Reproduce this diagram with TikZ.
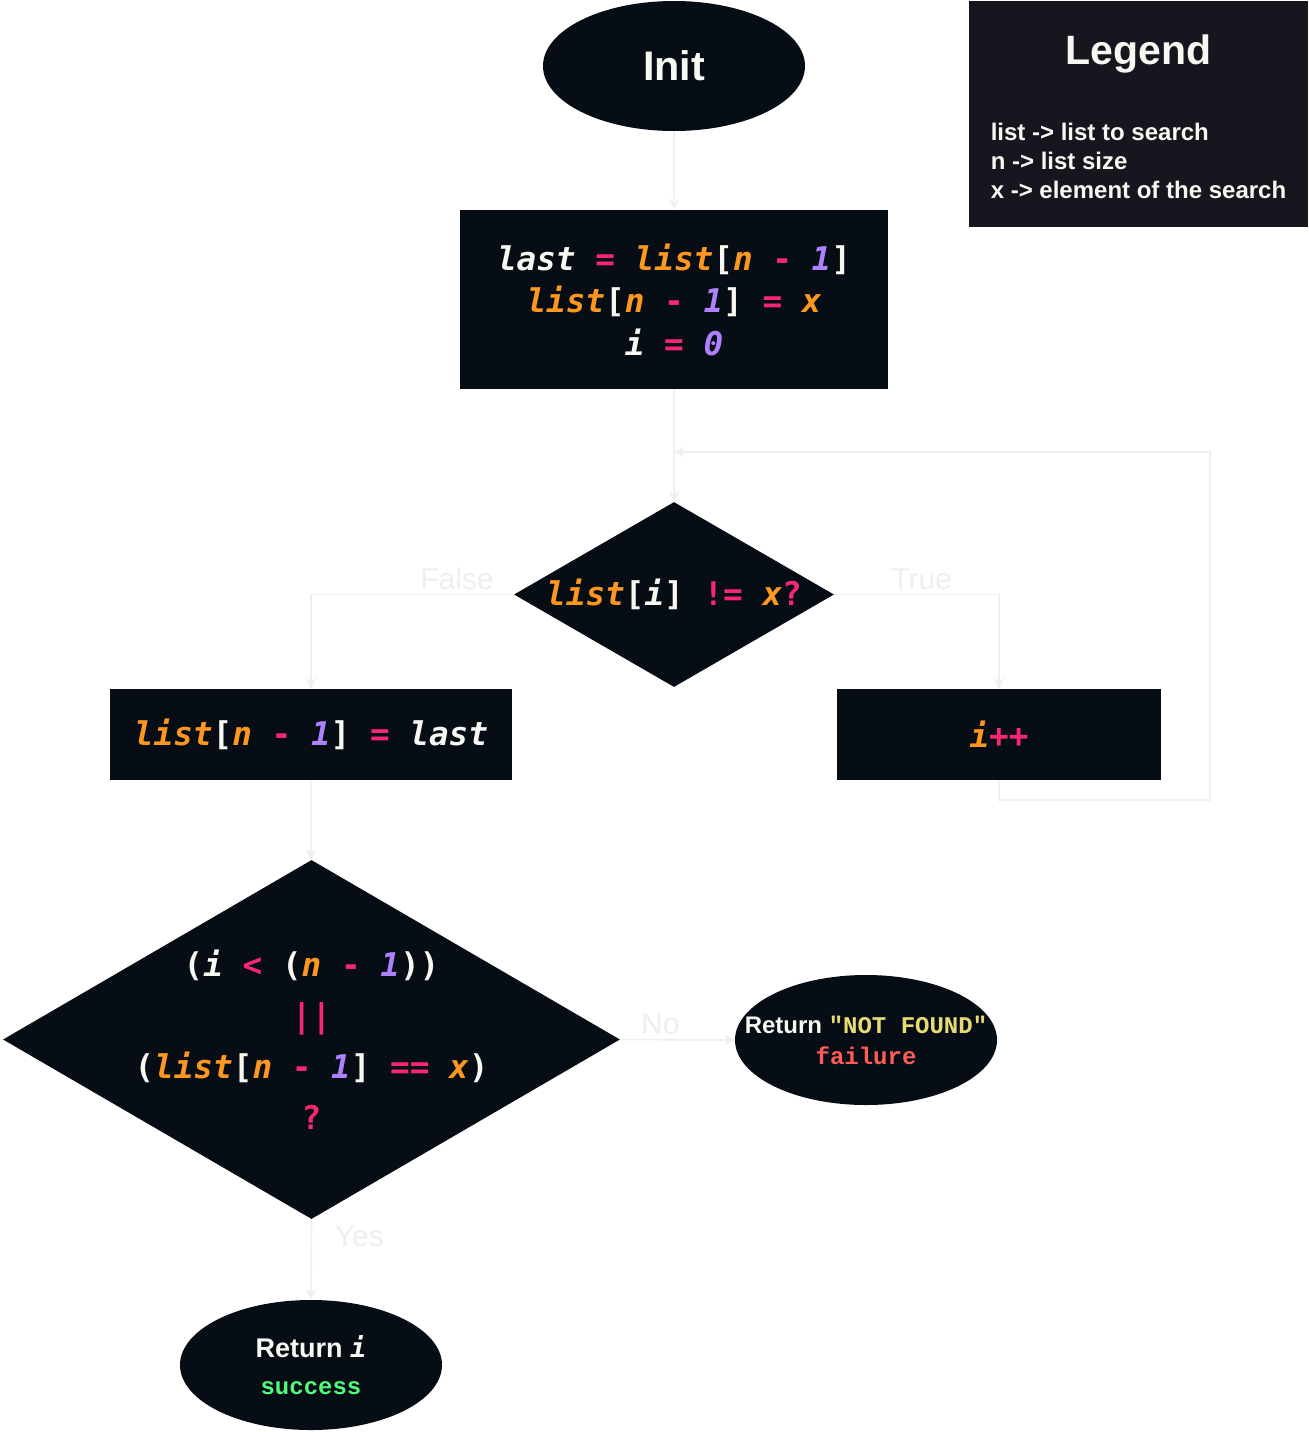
\documentclass[tikz,border=0pt]{standalone}
\usepackage{fontspec}
\setmainfont{Liberation Sans}
\newfontfamily\codefont{DejaVu Sans Mono}[WordSpace={1,0,0}]
\newfontfamily\strfont{Liberation Mono}[WordSpace={1,0,0}]
\usetikzlibrary{arrows.meta,shapes.geometric}

\definecolor{shapebg}{HTML}{070D14}
\definecolor{legendbg}{HTML}{18151F}
\definecolor{linkgray}{HTML}{EFEFEF}
\definecolor{cwhite}{HTML}{F8F8F2}
\definecolor{corange}{HTML}{FD971F}
\definecolor{cpink}{HTML}{F92672}
\definecolor{cpurple}{HTML}{AE81FF}
\definecolor{cyellow}{HTML}{E6DB74}
\definecolor{cred}{HTML}{FF5C57}
\definecolor{cgreen}{HTML}{50FA7B}

\def\cw#1{{\color{cwhite}\itshape#1}}
\def\cv#1{{\color{corange}\itshape#1}}
\def\cp#1{{\color{cpink}\upshape#1}}
\def\cn#1{{\color{cpurple}\itshape#1}}
\def\cb#1{{\color{cwhite}\upshape#1}}
\def\nw#1{\makebox[0pt]{#1}}

\tikzset{
	startstop/.style={ellipse, fill=shapebg, minimum width=196.5pt, minimum height=97.5pt, inner sep=0pt, align=center, text=cwhite},
	process/.style={rectangle, fill=shapebg, inner sep=0pt, align=center},
	decision/.style={diamond, fill=shapebg, inner sep=0pt, align=center},
	codetext/.style={font=\codefont\bfseries\fontsize{24.5pt}{31.9pt}\selectfont},
	link/.style={draw=linkgray, line width=1.2pt, -{Stealth[length=8pt, width=8pt, inset=2.5pt]}},
	linklabel/.style={text=linkgray, font=\fontsize{22.5pt}{27pt}\selectfont, inner sep=3pt},
	legendbox/.style={rectangle, fill=legendbg, minimum width=254.25pt, minimum height=169.5pt, inner sep=0pt, text=cwhite, font=\bfseries\fontsize{18pt}{21.75pt}\selectfont}
}

\begin{document}
\begin{tikzpicture}[x=0.75pt, y=-0.75pt]
		%%%%% START %%%%%
		
		\path[use as bounding box, fill=white] (0, 0) rectangle (1309, 1432);
		
		\node[startstop, font=\bfseries\fontsize{31pt}{37pt}\selectfont] (init) at (674, 66) {Init};
		
		\node[process, codetext, minimum width=321pt, minimum height=134.25pt] (setup) at (674, 299.5)
			{\cw{last} \cp{=} \cv{list}\cb{[}\cv{n} \cp{-} \cn{1}\cb{]}\\\cv{list}\cb{[}\cv{n} \cp{-} \cn{1}\cb{]} \cp{=} \cv{x}\\\cw{i} \cp{=} \cn{0}};
		
		\node[decision, codetext, minimum width=240pt, minimum height=138.75pt] (check) at (674, 594.5)
			{\nw{\cv{list}\cb{[}\cw{i}\cb{]} \cp{!=} \cv{x}\cp{?}}};
		
		\node[process, codetext, minimum width=301.5pt, minimum height=68.25pt] (fix) at (311, 734.5)
			{\cv{list}\cb{[}\cv{n} \cp{-} \cn{1}\cb{]} \cp{=} \cw{last}};
		\node[process, codetext, minimum width=243pt, minimum height=68.25pt] (inc) at (999, 734.5)
			{\cv{i}\cp{++}};
		
		\node[decision, font=\codefont\bfseries\fontsize{24.5pt}{38.25pt}\selectfont, minimum width=462.75pt, minimum height=269.25pt] (recheck) at (311.5, 1039.5)
			{\nw{\cb{(}\cw{i} \cp{<} \cb{(}\cv{n} \cp{-} \cn{1}\cb{))}}\\\nw{\cp{||}}\\\nw{\cb{(}\cv{list}\cb{[}\cv{n} \cp{-} \cn{1}\cb{]} \cp{==} \cv{x}\cb{)}}\\\nw{\cp{?}}};
		
		\node[startstop, font=\bfseries\fontsize{18pt}{23.25pt}\selectfont] (notfound) at (866, 1040)
			{\nw{Return {\strfont\bfseries\color{cyellow}"NOT FOUND"}}\\\nw{\strfont\bfseries\color{cred}failure}};
		\node[startstop, font=\bfseries\fontsize{20.25pt}{27.75pt}\selectfont] (found) at (311, 1365)
			{\nw{Return {\codefont\bfseries\itshape i}}\\\nw{\strfont\bfseries\fontsize{18pt}{27.75pt}\selectfont\color{cgreen}success}};
		
		\node[legendbox] (legend) at (1138.5, 114)
			{\begin{tabular}{@{}l@{}}\multicolumn{1}{@{}c@{}}{\rule{0pt}{33pt}\fontsize{30.75pt}{36pt}\selectfont Legend}\\[35pt]list -> list to search\\n -> list size\\x -> element of the search\end{tabular}};
		
		\coordinate (join) at (674, 452);
		
		\draw[link] (init) -- (setup);
		\draw[link] (setup) -- (check);
		\draw[link] (check.west) -| node[linklabel, pos=0.14, above] {False} (fix.north);
		\draw[link] (check.east) -| node[linklabel, pos=0.265, above] {True} (inc.north);
		\draw[link] (inc.south) -- ++(0, 20) -- ++(211, 0) |- (join);
		\draw[link] (fix) -- (recheck);
		\draw[link] (recheck.east) -- node[linklabel, pos=0.35, above] {No} (notfound.west);
		\draw[link] (recheck.south) -- node[linklabel, pos=0.21, right=14pt] {Yes} (found.north);
		
		%%%%% END %%%%%
\end{tikzpicture}
\end{document}
